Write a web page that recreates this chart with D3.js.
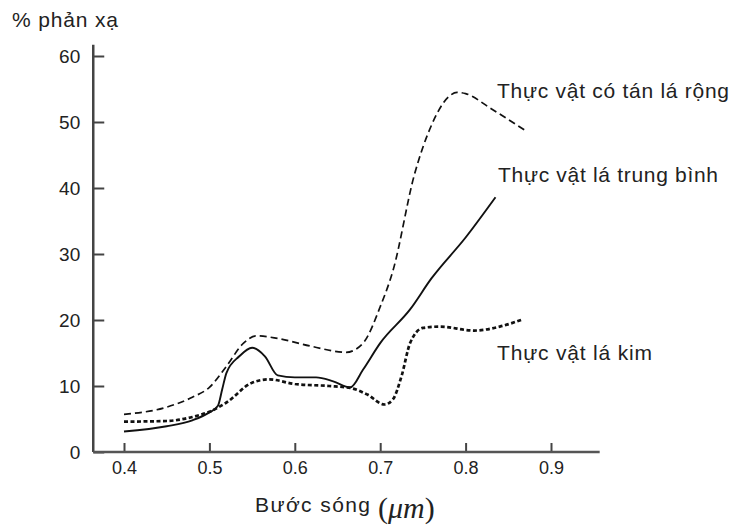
<!DOCTYPE html>
<html>
<head>
<meta charset="utf-8">
<script src="https://cdn.jsdelivr.net/npm/d3@7/dist/d3.min.js"></script>
<style>
  body { margin: 0; background: #fff; }
  svg text { font-family: "Liberation Sans", Arial, sans-serif; fill: #222; }
</style>
</head>
<body>
<div id="chart"></div>
<script>
// wavelength (um) / reflectance (%)
var broadX = [0.40, 0.45, 0.48, 0.50, 0.52, 0.54, 0.555, 0.58, 0.62, 0.66, 0.68, 0.70, 0.715, 0.74, 0.76, 0.78, 0.79, 0.80, 0.83, 0.87];
var broadY = [5.7, 6.8, 8.3, 9.8, 13, 16.5, 17.6, 17.2, 16, 15.1, 16.5, 22, 27.5, 42, 49.5, 53.8, 54.5, 54.3, 52, 48.7];

var mediumX = [0.40, 0.45, 0.48, 0.50, 0.51, 0.515, 0.52, 0.535, 0.55, 0.565, 0.58, 0.60, 0.625, 0.645, 0.665, 0.68, 0.70, 0.735, 0.76, 0.80, 0.835];
var mediumY = [3.1, 3.9, 4.8, 6.0, 7.0, 9.5, 12, 14.5, 15.8, 14.5, 11.6, 11.3, 11.3, 10.7, 9.8, 12.5, 16.5, 21.6, 26.3, 32.5, 38.6];

var coniferX = [0.40, 0.45, 0.48, 0.50, 0.52, 0.55, 0.57, 0.60, 0.64, 0.665, 0.685, 0.705, 0.715, 0.725, 0.735, 0.75, 0.77, 0.81, 0.84, 0.867];
var coniferY = [4.6, 4.7, 5.3, 6.1, 7.5, 10.5, 11.0, 10.3, 10.0, 9.7, 8.7, 7.2, 8.0, 11.5, 16.5, 18.8, 19.0, 18.4, 19.0, 20.1];

var xTicks = [0.4, 0.5, 0.6, 0.7, 0.8, 0.9];
var yTicks = [0, 10, 20, 30, 40, 50, 60];

var seriesNames = ['Thực vật có tán lá rộng', 'Thực vật lá trung bình', 'Thực vật lá kim'];

var width = 733, height = 527;

var svg = d3.select('#chart').append('svg')
    .attr('width', width)
    .attr('height', height);

var x = d3.scaleLinear().domain([0.4, 0.9]).range([124, 551]);
var y = d3.scaleLinear().domain([0, 60]).range([452, 56]);

// axes
var yAxis = d3.axisLeft(y)
    .tickValues(yTicks)
    .tickSize(-11)
    .tickPadding(13)
    .tickFormat(d3.format('d'));

var gy = svg.append('g')
    .attr('transform', 'translate(' + x(0.364) + ',0)')
    .call(yAxis);
gy.select('.domain').remove();
gy.selectAll('line').attr('stroke', '#444').attr('stroke-width', 2);
gy.selectAll('text').style('font-size', '19px').attr('fill', '#222');

gy.append('line')
    .attr('y1', y(0))
    .attr('y2', y(61.7))
    .attr('stroke', '#444')
    .attr('stroke-width', 2.5);

var xAxis = d3.axisBottom(x)
    .tickValues(xTicks)
    .tickSize(-9)
    .tickPadding(9)
    .tickFormat(d3.format('.1f'));

var gx = svg.append('g')
    .attr('transform', 'translate(0,' + y(0) + ')')
    .call(xAxis);
gx.select('.domain').remove();
gx.selectAll('line').attr('stroke', '#444').attr('stroke-width', 2);
gx.selectAll('text').style('font-size', '18px').attr('fill', '#222');

gx.append('line')
    .attr('x1', x(0.364))
    .attr('x2', x(0.957))
    .attr('stroke', '#555')
    .attr('stroke-width', 2.5);

// curves
var line = d3.line()
    .x(function(d) { return x(d[0]); })
    .y(function(d) { return y(d[1]); })
    .curve(d3.curveMonotoneX);

var series = [
    { xs: broadX, ys: broadY, dash: '7,4', width: 1.7 },
    { xs: mediumX, ys: mediumY, dash: null, width: 1.9 },
    { xs: coniferX, ys: coniferY, dash: '4,2.5', width: 2.7 }
];

series.forEach(function(s) {
    svg.append('path')
        .datum(d3.zip(s.xs, s.ys))
        .attr('d', line)
        .attr('fill', 'none')
        .attr('stroke', '#111')
        .attr('stroke-width', s.width)
        .attr('stroke-dasharray', s.dash);
});

// series labels
var labelPos = [[497, 98], [498, 182], [497, 360]];
var labelLen = [232, 220, 155];
seriesNames.forEach(function(name, i) {
    svg.append('text')
        .attr('x', labelPos[i][0])
        .attr('y', labelPos[i][1])
        .style('font-size', '21px')
        .attr('textLength', labelLen[i])
        .text(name);
});

// titles
svg.append('text')
    .attr('x', 12)
    .attr('y', 27)
    .style('font-size', '21px')
    .attr('textLength', 106)
    .text('% phản xạ');

svg.append('text')
    .attr('x', 255)
    .attr('y', 512)
    .style('font-size', '21px')
    .attr('textLength', 115)
    .text('Bước sóng');

var unit = svg.append('text')
    .attr('x', 378)
    .attr('y', 518)
    .style('font-family', '"Liberation Serif", "DejaVu Serif", serif')
    .style('font-size', '30px');
unit.append('tspan').text('(');
unit.append('tspan').style('font-style', 'italic').text('μm');
unit.append('tspan').text(')');
</script>
</body>
</html>
